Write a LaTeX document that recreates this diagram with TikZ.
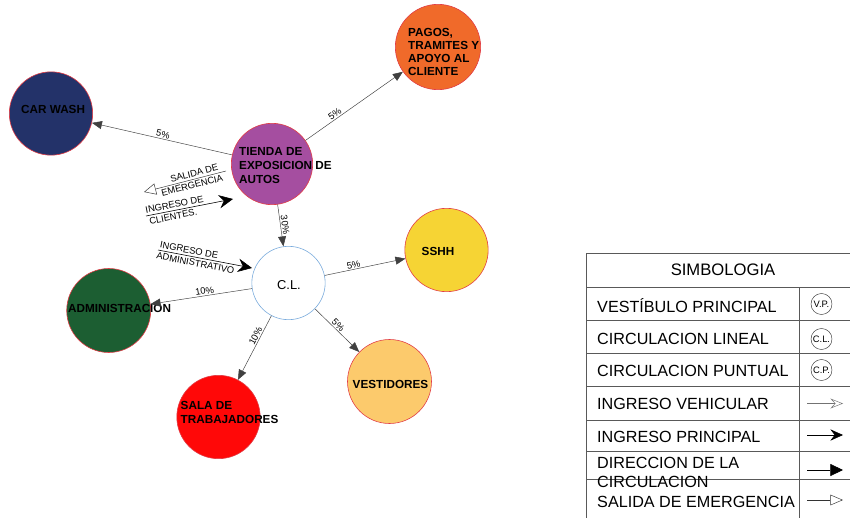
\documentclass[tikz,border=0pt]{standalone}
\usepackage{fontspec}
\setmainfont{Liberation Sans}
\usetikzlibrary{arrows.meta}

\definecolor{azulcw}{RGB}{35,50,105}
\definecolor{moradot}{RGB}{165,78,160}
\definecolor{naranjap}{RGB}{240,106,42}
\definecolor{amarillos}{RGB}{246,212,52}
\definecolor{verdead}{RGB}{28,94,50}
\definecolor{naranjav}{RGB}{252,202,108}
\definecolor{rojosa}{RGB}{255,8,8}
\definecolor{azulcl}{RGB}{120,170,220}
\definecolor{bordea}{RGB}{225,60,70}

\tikzset{
    area/.style={circle, draw=bordea, line width=0.5pt, inner sep=0pt},
    rotulo/.style={font=\bfseries\fontsize{10}{12}\selectfont, align=left, anchor=west, inner sep=0pt},
    flujo/.style={-{Triangle[length=3mm,width=2.4mm]}, draw=black!75, line width=0.4pt},
    pct/.style={font=\fontsize{8}{9}\selectfont, sloped, above, inner sep=1pt},
    nota/.style={font=\fontsize{8}{9}\selectfont, sloped, inner sep=1.8pt},
    ingreso/.style={-{Stealth[length=4.2mm,width=4mm,inset=1.4mm]}, line width=0.5pt},
    salida/.style={{Triangle[open,length=3.6mm,width=3.4mm]}-, line width=0.4pt, draw=black!80},
    tabla/.style={draw=black!65, line width=0.6pt},
    leyenda/.style={font=\fontsize{13.8}{16}\selectfont, anchor=base west, inner sep=0pt},
    simbolo/.style={circle, draw=black!80, line width=0.4pt, minimum size=6.3mm, inner sep=0pt, font=\fontsize{8}{9}\selectfont}
}

\begin{document}
\begin{tikzpicture}[x=0.3mm, y=-0.3mm]
    \useasboundingbox (0,0) rectangle (850,518);

    % Areas
    \node [area, fill=azulcw, minimum size=25mm] (carwash) at (51,113.5) {};
    \node [area, fill=moradot, minimum size=24.4mm] (tienda) at (272,164) {};
    \node [area, fill=naranjap, minimum size=25.6mm] (pagos) at (438,47) {};
    \node [area, fill=white, draw=azulcl, minimum size=22mm] (cl) at (288.5,283) {};
    \node [area, fill=amarillos, minimum size=25mm] (sshh) at (446.5,250) {};
    \node [area, fill=verdead, minimum size=25.2mm] (admin) at (108.7,310.5) {};
    \node [area, fill=naranjav, minimum size=25.2mm] (vest) at (389.5,381.5) {};
    \node [area, fill=rojosa, minimum size=25mm] (sala) at (218.5,417) {};

    \node [rotulo] (tcarwash) at (21,109.5) {CAR WASH};
    \node [rotulo] (ttienda) at (239,165.5) {TIENDA DE\\EXPOSICION DE\\AUTOS};
    \node [rotulo, font=\bfseries\fontsize{10}{11.2}\selectfont] (tpagos) at (408,52) {PAGOS,\\TRAMITES Y\\APOYO AL\\CLIENTE};
    \node [font=\fontsize{11}{13}\selectfont, inner sep=0pt] (tcl) at (289,285) {C.L.};
    \node [rotulo] (tsshh) at (421.5,251.5) {SSHH};
    \node [rotulo] (tadmin) at (68,308) {ADMINISTRACION};
    \node [rotulo] (tvest) at (352.5,384) {VESTIDORES};
    \node [rotulo] (tsala) at (180.5,412) {SALA DE\\TRABAJADORES};

    % Flows between areas
    \draw [flujo] (tienda) -- (carwash) node [pct, pos=0.5] {5\%};
    \draw [flujo] (tienda) -- (pagos) node [pct, pos=0.33] {5\%};
    \draw [flujo] (tienda) -- (cl) node [pct, pos=0.5] {30\%};
    \draw [flujo] (cl) -- (sshh) node [pct, pos=0.37] {5\%};
    \draw [flujo] (cl) -- (vest) node [pct, pos=0.45] {5\%};
    \draw [flujo] (cl) -- (admin) node [pct, pos=0.46] {10\%};
    \draw [flujo] (cl) -- (sala) node [pct, pos=0.35] {10\%};

    % Entrances and emergency exit
    \coordinate (salB) at (144,192);
    \coordinate (salA) at (226,171);
    \draw [salida] (salB) -- (salA)
        node [nota, above, pos=0.63] {SALIDA DE}
        node [nota, below, pos=0.57] {EMERGENCIA};
    \coordinate (icA) at (146,216);
    \coordinate (icB) at (233,199);
    \draw [ingreso] (icA) -- (icB)
        node [nota, above, pos=0.34] {INGRESO DE}
        node [nota, below, pos=0.30] {CLIENTES.};
    \coordinate (iaA) at (158,250);
    \coordinate (iaB) at (252,268);
    \draw [ingreso] (iaA) -- (iaB)
        node [nota, above, pos=0.32] {INGRESO DE}
        node [nota, below, pos=0.41] {ADMINISTRATIVO};

    % Simbologia
    \draw [tabla] (586,518) -- (586,253) -- (850,253);
    \foreach \y in {287,320,353,386.5,420,451,479.5}
        \draw [tabla] (586,\y) -- (850,\y);
    \draw [tabla] (799,287) -- (799,518);
    \node [font=\fontsize{14.2}{16}\selectfont, inner sep=0pt] (titulo) at (723,270) {SIMBOLOGIA};
    \foreach \nom/\y/\txt in {fvp/312/VESTÍBULO PRINCIPAL, fcl/344.5/CIRCULACION LINEAL,
            fcp/376/CIRCULACION PUNTUAL, fiv/409.5/INGRESO VEHICULAR,
            fip/442/INGRESO PRINCIPAL, fse/507/SALIDA DE EMERGENCIA}
        \node [leyenda] (\nom) at (597,\y) {\txt};
    \node [leyenda, anchor=west, align=left] (fdc) at (597,472.5) {DIRECCION DE LA\\CIRCULACION};

    \foreach \nom/\y/\txt in {simVP/304/V.P., simCL/339/C.L., simCP/370/C.P.}
        \node [simbolo] (\nom) at (821.5,\y) {\txt};

    \coordinate (vehA) at (807,403.5);
    \coordinate (vehB) at (843,403.5);
    \coordinate (priA) at (807,435);
    \coordinate (priB) at (843,435);
    \coordinate (dirA) at (807,470);
    \coordinate (dirB) at (843,470);
    \coordinate (emeA) at (807,500);
    \coordinate (emeB) at (843,500);
    \draw [-{Stealth[open,length=3.8mm,width=3mm,inset=1.4mm]}, draw=black!55, line width=0.4pt] (vehA) -- (vehB);
    \draw [-{Stealth[length=3.8mm,width=3.4mm,inset=1.3mm]}, line width=0.5pt] (priA) -- (priB);
    \draw [-{Triangle[length=3.8mm,width=3.6mm]}, line width=0.5pt] (dirA) -- (dirB);
    \draw [-{Triangle[open,length=3.8mm,width=3.2mm]}, line width=0.4pt, draw=black!80] (emeA) -- (emeB);
\end{tikzpicture}
\end{document}
